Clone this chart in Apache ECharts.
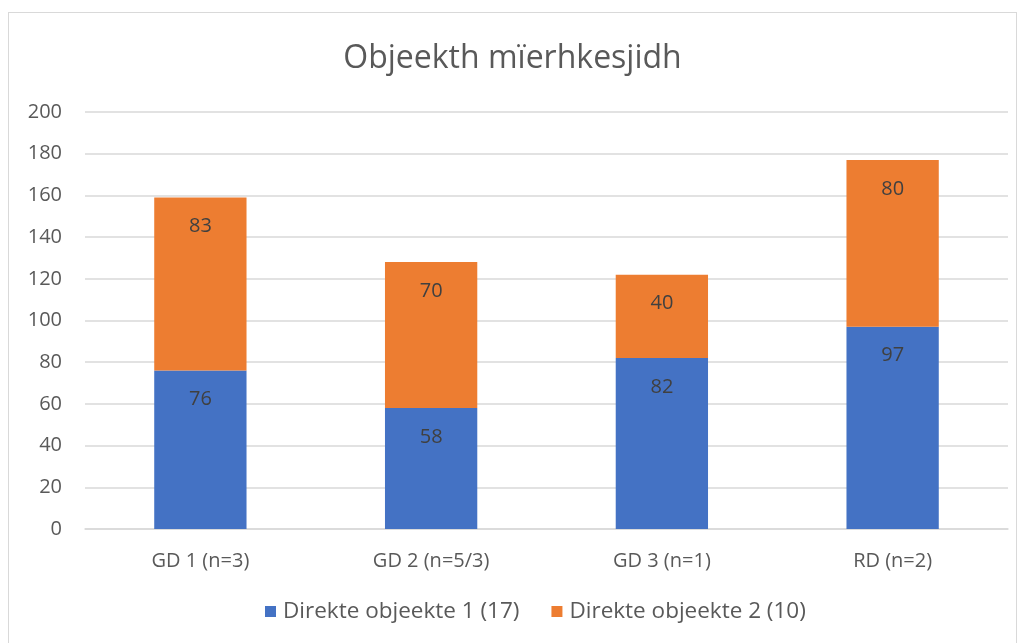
<!DOCTYPE html>
<html><head><meta charset="utf-8">
<script src="https://cdn.jsdelivr.net/npm/echarts@6/dist/echarts.min.js"></script>
<style>
html,body{margin:0;padding:0;background:#fff;}
#frame{position:absolute;left:8px;top:12px;width:1009px;height:640px;border:1px solid #d9d9d9;box-sizing:border-box;}
#c{position:absolute;left:0;top:0;width:1025px;height:643px;}
</style></head>
<body><div id="frame"></div><div id="c"></div>
<script>
const categories = ['GD 1 (n=3)', 'GD 2 (n=5/3)', 'GD 3 (n=1)', 'RD (n=2)'];
const series1Name = 'Direkte objeekte 1 (17)';
const series2Name = 'Direkte objeekte 2 (10)';
const series1 = [76, 58, 82, 97];
const series2 = [83, 70, 40, 80];
const titleText = 'Objeekth mïerhkesjidh';

const font = '"Open Sans", "Noto Sans", sans-serif';
const chart = echarts.init(document.getElementById('c'), null, {renderer:'canvas'});
const lbl = {show:true,position:'insideTop',distance:19,fontSize:20,color:'#404040',fontFamily:font};
chart.setOption({
  animation:false,
  textStyle:{fontFamily:font},
  title:{text:titleText,left:'center',top:38,textStyle:{fontSize:32,fontWeight:'normal',color:'#595959',fontFamily:font}},
  legend:{bottom:20,left:265,padding:0,itemWidth:11,itemHeight:11,itemGap:32,icon:'rect',
    textStyle:{fontSize:22.5,color:'#595959',fontFamily:font,padding:[0,0,0,2]}},
  grid:{left:85,right:17,top:112,bottom:114,containLabel:false},
  xAxis:{type:'category',data:categories,
    axisLine:{lineStyle:{color:'#d9d9d9',width:1.5}},axisTick:{show:false},
    axisLabel:{fontSize:20,color:'#595959',margin:22,fontFamily:font}},
  yAxis:{type:'value',min:0,max:200,interval:20,
    axisLabel:{fontSize:20,color:'#595959',margin:23,fontFamily:font},
    splitLine:{lineStyle:{color:'#d9d9d9',width:1.5}},axisLine:{show:false},axisTick:{show:false}},
  series:[
    {name:series1Name,type:'bar',stack:'a',data:series1,barWidth:'40%',itemStyle:{color:'#4472C4'},label:lbl},
    {name:series2Name,type:'bar',stack:'a',data:series2,barWidth:'40%',itemStyle:{color:'#ED7D31'},label:lbl}
  ]
});
</script></body></html>
